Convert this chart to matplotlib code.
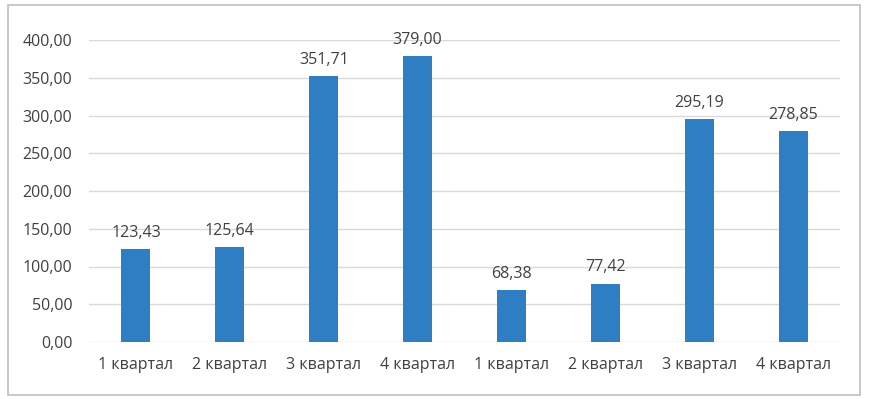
import matplotlib.pyplot as plt
from matplotlib.patches import Rectangle

categories = ["1 квартал", "2 квартал", "3 квартал", "4 квартал",
              "1 квартал", "2 квартал", "3 квартал", "4 квартал"]
values = [123.43, 125.64, 351.71, 379.00, 68.38, 77.42, 295.19, 278.85]
yticks = [0, 50, 100, 150, 200, 250, 300, 350, 400]

plt.rcParams["font.family"] = ["Open Sans", "DejaVu Sans"]
text_color = "#404040"
bar_color = "#2E7EC3"
grid_color = "#D9D9D9"

fig = plt.figure(figsize=(8.69, 3.99), dpi=100)
fig.patches.append(Rectangle((8 / 869, 4 / 399), 852 / 869, 390 / 399,
                             transform=fig.transFigure, fill=False,
                             edgecolor="#BFBFBF", linewidth=1.2))

ax = fig.add_axes([89 / 869, 1 - 342 / 399, 751 / 869, 302 / 399])
x = range(len(values))
bars = ax.bar(x, values, width=0.31, color=bar_color, zorder=3)

for xi, v in zip(x, values):
    ax.text(xi, v + 11, f"{v:.2f}".replace(".", ","), ha="center", va="bottom",
            fontsize=11.5, color=text_color)

ax.set_xlim(-0.5, len(values) - 0.5)
ax.set_ylim(0, 400)
ax.set_yticks(yticks)
ax.set_yticklabels([f"{t:.2f}".replace(".", ",") for t in yticks])
ax.set_xticks(list(x))
ax.set_xticklabels(categories)
ax.tick_params(axis="both", length=0, labelsize=11.5, colors=text_color)
ax.tick_params(axis="y", pad=12)
ax.tick_params(axis="x", pad=11)
ax.grid(axis="y", color=grid_color, linewidth=1, zorder=0)
for s in ax.spines.values():
    s.set_visible(False)

fig.savefig("out.png", dpi=100)
